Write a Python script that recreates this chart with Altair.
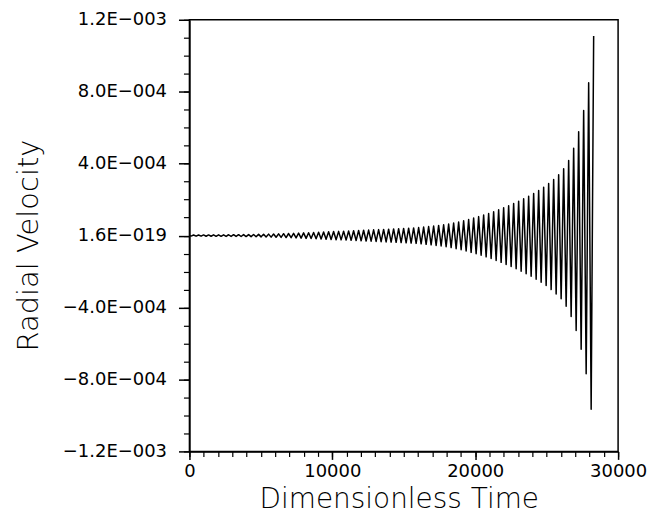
import altair as alt
import pandas as pd

# Extrema of the oscillation (time, value in units of 1E-4)
time_points = [
    0,
    115, 290, 465, 640, 815, 990, 1165, 1340, 1515, 1690,
    1865, 2040, 2215, 2390, 2565, 2740, 2915, 3090, 3265, 3440,
    3615, 3790, 3965, 4140, 4315, 4490, 4665, 4840, 5015, 5190,
    5365, 5540, 5715, 5890, 6065, 6240, 6415, 6590, 6765, 6940,
    7115, 7290, 7465, 7640, 7815, 7990, 8165, 8340, 8515, 8690,
    8865, 9040, 9215, 9390, 9565, 9740, 9915, 10090, 10265, 10440,
    10615, 10790, 10965, 11140, 11315, 11490, 11665, 11840, 12015, 12190,
    12365, 12540, 12715, 12890, 13065, 13240, 13415, 13590, 13765, 13940,
    14115, 14290, 14465, 14640, 14815, 14990, 15165, 15340, 15515, 15690,
    15865, 16040, 16215, 16390, 16565, 16740, 16915, 17090, 17265, 17440,
    17615, 17790, 17965, 18140, 18315, 18490, 18665, 18840, 19015, 19190,
    19365, 19540, 19715, 19890, 20065, 20240, 20415, 20590, 20765, 20940,
    21115, 21290, 21465, 21640, 21815, 21990, 22165, 22340, 22515, 22690,
    22865, 23040, 23215, 23390, 23565, 23740, 23915, 24090, 24265, 24440,
    24615, 24790, 24965, 25140, 25315, 25490, 25665, 25840, 26015, 26190,
    26365, 26540, 26715, 26890, 27065, 27240, 27415, 27590, 27765, 27940,
    28115, 28290,
]
velocity_e4 = [
    0.0,
    -0.030, 0.031, -0.032, 0.033, -0.034, 0.035, -0.036, 0.037, -0.038, 0.039,
    -0.040, 0.041, -0.042, 0.043, -0.044, 0.046, -0.047, 0.048, -0.049, 0.051,
    -0.052, 0.054, -0.055, 0.057, -0.060, 0.062, -0.065, 0.068, -0.071, 0.074,
    -0.078, 0.081, -0.085, 0.088, -0.092, 0.097, -0.101, 0.105, -0.110, 0.115,
    -0.120, 0.126, -0.131, 0.137, -0.143, 0.150, -0.155, 0.160, -0.166, 0.171,
    -0.177, 0.183, -0.189, 0.196, -0.203, 0.209, -0.217, 0.223, -0.228, 0.234,
    -0.239, 0.245, -0.251, 0.257, -0.264, 0.270, -0.277, 0.283, -0.291, 0.296,
    -0.302, 0.307, -0.313, 0.319, -0.325, 0.332, -0.338, 0.344, -0.351, 0.358,
    -0.364, 0.371, -0.377, 0.384, -0.391, 0.398, -0.405, 0.412, -0.419, 0.427,
    -0.434, 0.443, -0.457, 0.471, -0.485, 0.500, -0.515, 0.531, -0.547, 0.563,
    -0.581, 0.598, -0.617, 0.641, -0.669, 0.697, -0.727, 0.758, -0.790, 0.824,
    -0.859, 0.896, -0.934, 0.974, -1.014, 1.054, -1.095, 1.138, -1.183, 1.229,
    -1.277, 1.327, -1.379, 1.433, -1.489, 1.547, -1.603, 1.661, -1.722, 1.784,
    -1.849, 1.915, -1.980, 2.047, -2.117, 2.189, -2.263, 2.341, -2.423, 2.508,
    -2.596, 2.687, -2.781, 2.889, -3.004, 3.124, -3.248, 3.377, -3.517, 3.717,
    -3.928, 4.172, -4.503, 4.860, -5.274, 5.773, -6.318, 6.951, -7.688, 8.503,
    -9.650, 11.100,
]

x_major = [0, 10000, 20000, 30000]
x_minor = [0, 1000, 2000, 3000, 4000, 5000, 6000, 7000, 8000, 9000, 10000,
           11000, 12000, 13000, 14000, 15000, 16000, 17000, 18000, 19000, 20000,
           21000, 22000, 23000, 24000, 25000, 26000, 27000, 28000, 29000, 30000]
y_major = [-0.0012, -0.0008, -0.0004, 0.0, 0.0004, 0.0008, 0.0012]
y_major_labels = ["\u22121.2E\u2212003", "\u22128.0E\u2212004", "\u22124.0E\u2212004",
                  "1.6E\u2212019", "4.0E\u2212004", "8.0E\u2212004", "1.2E\u2212003"]
y_minor = [-0.0012, -0.0011, -0.0010, -0.0009, -0.0008, -0.0007, -0.0006, -0.0005,
           -0.0004, -0.0003, -0.0002, -0.0001, 0.0, 0.0001, 0.0002, 0.0003, 0.0004,
           0.0005, 0.0006, 0.0007, 0.0008, 0.0009, 0.0010, 0.0011, 0.0012]

df = pd.DataFrame({"t": time_points, "v": [v * 1e-4 for v in velocity_e4]})

label_expr = "''"
for val, lab in zip(y_major, y_major_labels):
    label_expr = f"abs(datum.value - ({val})) < 1e-6 ? '{lab}' : ({label_expr})"

FONT = "DejaVu Sans"
xscale = alt.Scale(domain=[0, 30000], nice=False, zero=False)
yscale = alt.Scale(domain=[-0.0012, 0.0012], nice=False, zero=False)

main = alt.Chart(df).mark_line(color="black", strokeWidth=1.5, strokeJoin="round").encode(
    x=alt.X("t:Q", scale=xscale, axis=alt.Axis(
        values=x_major, format="d", orient="bottom", grid=False,
        tickSize=8, tickWidth=1.5, tickColor="black",
        domainColor="black", domainWidth=1.5,
        labelFont=FONT, labelFontSize=18, labelColor="black", labelPadding=3,
        labelFlush=False, labelOverlap=False,
        title="Dimensionless Time", titleFont=FONT, titleFontSize=28,
        titleFontWeight=200, titleColor="black",
        titleX=210, titleY=56, titleAlign="center", titleBaseline="alphabetic")),
    y=alt.Y("v:Q", scale=yscale, axis=alt.Axis(
        values=y_major, labelExpr=label_expr, orient="left", grid=False,
        tickSize=11, tickWidth=1.5, tickColor="black",
        domainColor="black", domainWidth=1.5,
        labelFont=FONT, labelFontSize=18, labelColor="black", labelPadding=12,
        labelFlush=False, labelOverlap=False,
        title="Radial Velocity", titleFont=FONT, titleFontSize=29,
        titleFontWeight=200, titleColor="black", titleAngle=270,
        titleX=-152, titleY=226, titleAlign="center", titleBaseline="alphabetic")),
)

minor = alt.Chart(df).mark_line(opacity=0).encode(
    x=alt.X("t:Q", scale=xscale, axis=alt.Axis(
        values=x_minor, labels=False, domain=False, grid=False, orient="bottom",
        tickSize=5, tickWidth=1.2, tickColor="black", title="")),
    y=alt.Y("v:Q", scale=yscale, axis=alt.Axis(
        values=y_minor, labels=False, domain=False, grid=False, orient="left",
        tickSize=6, tickWidth=1.2, tickColor="black", title="")),
)

chart = alt.layer(main, minor).resolve_axis(x="independent", y="independent").properties(
    width=430, height=433,
    autosize=alt.AutoSizeParams(type="none"),
    padding={"left": 182, "top": 11, "right": 30, "bottom": 62},
).configure_view(stroke="black", strokeWidth=1.5)

chart.save("out.html", embed_options={"renderer": "svg", "actions": False})
